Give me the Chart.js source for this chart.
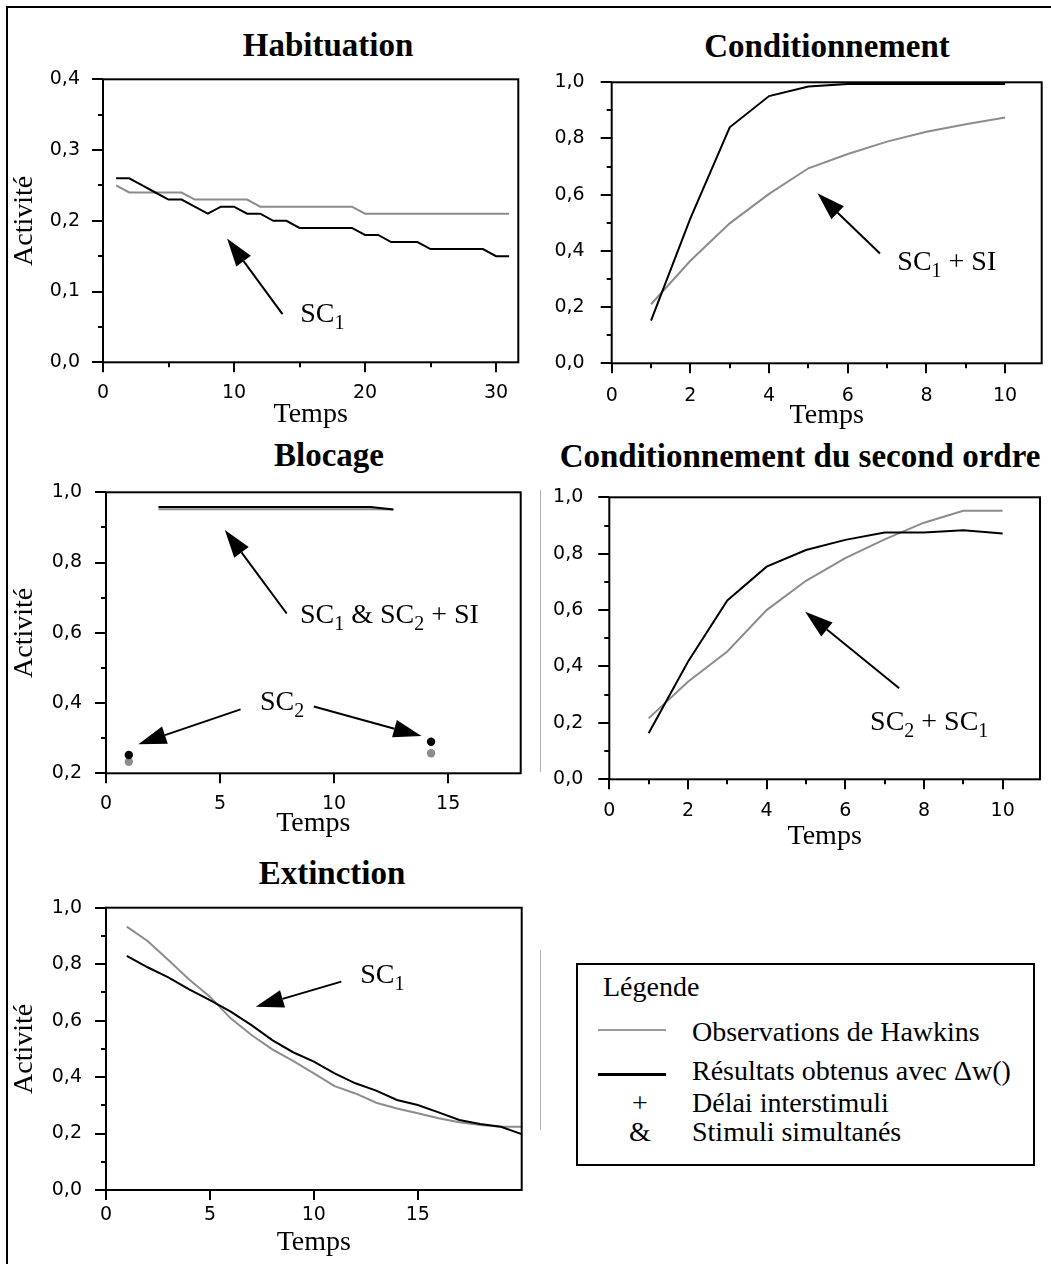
<!DOCTYPE html>
<html>
<head>
<meta charset="utf-8">
<script src="https://cdn.jsdelivr.net/npm/chart.js@4.4.0/dist/chart.umd.min.js"></script>
<style>
body { margin: 0; background: #fff; }
#page { position: relative; width: 1051px; height: 1264px; overflow: hidden; font-family: 'Liberation Serif', 'Times New Roman', serif; color: #000; }
#page canvas { position: absolute; }
.cadre { position: absolute; left: 6px; top: 6px; width: 1200px; height: 1400px; border-top: 2px solid #000; border-left: 2px solid #000; }
.titre { position: absolute; font-weight: bold; font-size: 33px; line-height: 33px; white-space: nowrap; transform: translateX(-50%); }
.leg { position: absolute; font-size: 28px; line-height: 28px; white-space: nowrap; }
.sym { transform: translateX(-50%); }
.trait { position: absolute; }
#boite { position: absolute; left: 576px; top: 963px; width: 459px; height: 203px; box-sizing: border-box; border: 2px solid #000; }
.filet { position: absolute; width: 1px; background: #b0b0b0; }
</style>
</head>
<body>
<div id="page">
  <div class="cadre"></div>
  <div class="filet" style="left:540px; top:490px; height:282px;"></div>
  <div class="filet" style="left:540px; top:950px; height:180px;"></div>

  <div class="titre" style="left:328px; top:29px;">Habituation</div>
  <div class="titre" style="left:827px; top:30px;">Conditionnement</div>
  <div class="titre" style="left:329px; top:439px;">Blocage</div>
  <div class="titre" style="left:800px; top:440px;">Conditionnement du second ordre</div>
  <div class="titre" style="left:332px; top:857px;">Extinction</div>

  <canvas id="hab"></canvas>
  <canvas id="cond"></canvas>
  <canvas id="bloc"></canvas>
  <canvas id="ordre2"></canvas>
  <canvas id="ext"></canvas>

  <div id="boite"></div>
  <div class="leg" style="left:603px; top:973px;">Légende</div>
  <div class="trait" style="left:598px; top:1029px; width:68px; height:1.5px; background:#999;"></div>
  <div class="leg" style="left:692px; top:1018px;">Observations de Hawkins</div>
  <div class="trait" style="left:598px; top:1073px; width:68px; height:2.5px; background:#000;"></div>
  <div class="leg" style="left:692px; top:1057px;">Résultats obtenus avec Δw()</div>
  <div class="leg sym" style="left:640px; top:1089px;">+</div>
  <div class="leg" style="left:692px; top:1089px;">Délai interstimuli</div>
  <div class="leg sym" style="left:640px; top:1118px;">&amp;</div>
  <div class="leg" style="left:692px; top:1118px;">Stimuli simultanés</div>
</div>

<script>
// Habituation
const habTemps = [1, 2, 3, 4, 5, 6, 7, 8, 9, 10, 11, 12, 13, 14, 15, 16, 17, 18, 19, 20, 21, 22, 23, 24, 25, 26, 27, 28, 29, 30, 31];
const habHawkins = [0.25, 0.24, 0.24, 0.24, 0.24, 0.24, 0.23, 0.23, 0.23, 0.23, 0.23, 0.22, 0.22, 0.22, 0.22, 0.22,
  0.22, 0.22, 0.22, 0.21, 0.21, 0.21, 0.21, 0.21, 0.21, 0.21, 0.21, 0.21, 0.21, 0.21, 0.21];
const habDeltaW = [0.26, 0.26, 0.25, 0.24, 0.23, 0.23, 0.22, 0.21, 0.22, 0.22, 0.21, 0.21, 0.20, 0.20, 0.19, 0.19,
  0.19, 0.19, 0.19, 0.18, 0.18, 0.17, 0.17, 0.17, 0.16, 0.16, 0.16, 0.16, 0.16, 0.15, 0.15];
const habTicksX = [0, 5, 10, 15, 20, 25, 30];
const habLabelsX = [0, 10, 20, 30];
const habTicksY = [0, 0.05, 0.1, 0.15, 0.2, 0.25, 0.3, 0.35, 0.4];
const habLabelsY = [0, 0.1, 0.2, 0.3, 0.4];

// Conditionnement
const condTemps = [1, 2, 3, 4, 5, 6, 7, 8, 9, 10];
const condHawkins = [0.21, 0.365, 0.498, 0.603, 0.694, 0.745, 0.789, 0.824, 0.851, 0.875];
const condDeltaW = [0.152, 0.516, 0.84, 0.951, 0.985, 0.994, 0.994, 0.994, 0.994, 0.994];

// Blocage
const blocLigneTemps = [2.3, 11.6, 12.6];
const blocLigneHawkins = [0.952, 0.952, 0.951];
const blocLigneDeltaW = [0.958, 0.958, 0.951];
const blocSC2Temps = [1, 14.25];
const blocSC2Hawkins = [0.233, 0.257];
const blocSC2DeltaW = [0.252, 0.29];
const blocTicksX = [0, 5, 10, 15];
const blocLabelsX = [0, 5, 10, 15];
const blocTicksY = [0.2, 0.3, 0.4, 0.5, 0.6, 0.7, 0.8, 0.9, 1.0];
const blocLabelsY = [0.2, 0.4, 0.6, 0.8, 1.0];

// Conditionnement du second ordre
const ordre2Temps = [1, 2, 3, 4, 5, 6, 7, 8, 9, 10];
const ordre2Hawkins = [0.216, 0.346, 0.453, 0.6, 0.704, 0.784, 0.851, 0.91, 0.952, 0.952];
const ordre2DeltaW = [0.163, 0.417, 0.634, 0.754, 0.813, 0.849, 0.875, 0.875, 0.883, 0.872];

// Extinction
const extTemps = [1, 2, 3, 4, 5, 6, 7, 8, 9, 10, 11, 12, 13, 14, 15, 16, 17, 18, 19, 20];
const extHawkins = [0.933, 0.882, 0.815, 0.746, 0.685, 0.608, 0.549, 0.498, 0.457, 0.413,
  0.368, 0.342, 0.309, 0.289, 0.272, 0.254, 0.240, 0.230, 0.224, 0.224];
const extDeltaW = [0.829, 0.789, 0.753, 0.711, 0.673, 0.632, 0.584, 0.531, 0.488, 0.455,
  0.413, 0.378, 0.352, 0.319, 0.301, 0.275, 0.248, 0.234, 0.224, 0.198];
const extTicksX = [0, 5, 10, 15];
const extLabelsX = [0, 5, 10, 15];

// axes communs aux panneaux 0..10 et 0..1
const dixTicksX = [0, 1, 2, 3, 4, 5, 6, 7, 8, 9, 10];
const dixLabelsX = [0, 2, 4, 6, 8, 10];
const unTicksY = [0, 0.1, 0.2, 0.3, 0.4, 0.5, 0.6, 0.7, 0.8, 0.9, 1.0];
const unLabelsY = [0, 0.2, 0.4, 0.6, 0.8, 1.0];

const NOIR = '#000';
const GRIS = '#8c8c8c';

const points = (xs, ys) => xs.map((x, i) => ({ x: x, y: ys[i] }));
const dans = (liste, v) => liste.some(w => Math.abs(w - v) < 1e-9);

function courbe(xs, ys, couleur) {
  return { data: points(xs, ys), showLine: true, borderColor: couleur, borderWidth: 2,
    pointRadius: 0, tension: 0 };
}
function nuage(xs, ys, couleur) {
  return { data: points(xs, ys), showLine: false, backgroundColor: couleur, borderWidth: 0,
    pointRadius: 4.2 };
}

// cadre du graphe + graduations (longues sous les valeurs, courtes entre)
function cadrePlugin(labelsX, labelsY) {
  return {
    id: 'cadre',
    afterDraw(chart) {
      const { ctx, chartArea: a, scales } = chart;
      ctx.save();
      ctx.strokeStyle = NOIR;
      ctx.lineWidth = 2;
      ctx.beginPath();
      scales.x.ticks.forEach(t => {
        const px = Math.round(scales.x.getPixelForValue(t.value));
        ctx.moveTo(px, a.bottom);
        ctx.lineTo(px, a.bottom + (dans(labelsX, t.value) ? 10 : 5));
      });
      scales.y.ticks.forEach(t => {
        const py = Math.round(scales.y.getPixelForValue(t.value));
        ctx.moveTo(a.left, py);
        ctx.lineTo(a.left - (dans(labelsY, t.value) ? 11 : 5), py);
      });
      ctx.stroke();
      ctx.strokeRect(a.left, a.top, a.right - a.left, a.bottom - a.top);
      ctx.restore();
    }
  };
}

function fleche(ctx, x1, y1, x2, y2) {
  const ang = Math.atan2(y2 - y1, x2 - x1);
  const L = 28, W = 9;
  const bx = x2 - L * Math.cos(ang), by = y2 - L * Math.sin(ang);
  ctx.beginPath();
  ctx.moveTo(x1, y1);
  ctx.lineTo(bx, by);
  ctx.stroke();
  ctx.beginPath();
  ctx.moveTo(x2, y2);
  ctx.lineTo(bx + W * Math.sin(ang), by - W * Math.cos(ang));
  ctx.lineTo(bx - W * Math.sin(ang), by + W * Math.cos(ang));
  ctx.closePath();
  ctx.fill();
}

// flèches et étiquettes SC, placées en coordonnées de données
function notesPlugin(fleches, textes) {
  return {
    id: 'notes',
    afterDatasetsDraw(chart) {
      const { ctx, scales: { x, y } } = chart;
      ctx.save();
      ctx.strokeStyle = NOIR;
      ctx.fillStyle = NOIR;
      ctx.lineWidth = 2;
      fleches.forEach(f => fleche(ctx, x.getPixelForValue(f[0]), y.getPixelForValue(f[1]),
        x.getPixelForValue(f[2]), y.getPixelForValue(f[3])));
      ctx.textBaseline = 'alphabetic';
      textes.forEach(t => {
        let px = x.getPixelForValue(t.x);
        const py = y.getPixelForValue(t.y);
        t.morceaux.forEach(m => {
          const indice = m[1] === 1;
          ctx.font = (indice ? 20 : 28) + 'px "Liberation Serif"';
          ctx.fillText(m[0], px, py + (indice ? 7 : 0));
          px += ctx.measureText(m[0]).width;
        });
      });
      ctx.restore();
    }
  };
}

const police = { family: 'DejaVu Sans', size: 19 };
const policeTitre = { family: 'Liberation Serif', size: 28 };

// la marge haute du canvas doit dépasser la demi-hauteur des étiquettes + padding
function panneau(id, boite, zone, p) {
  const canvas = document.getElementById(id);
  canvas.width = boite.w;
  canvas.height = boite.h;
  canvas.style.left = boite.left + 'px';
  canvas.style.top = boite.top + 'px';
  const largeurY = zone.l - boite.left;
  const hauteurX = boite.top + boite.h - zone.b;
  return new Chart(canvas, {
    type: 'scatter',
    data: { datasets: p.datasets },
    options: {
      responsive: false,
      animation: false,
      layout: { padding: { left: 0, bottom: 0, top: zone.t - boite.top, right: boite.left + boite.w - zone.r } },
      plugins: { legend: { display: false }, tooltip: { enabled: false } },
      scales: {
        x: {
          type: 'linear', min: p.xMin, max: p.xMax,
          afterBuildTicks: s => { s.ticks = p.ticksX.map(v => ({ value: v })); },
          afterFit: s => { s.height = hauteurX; },
          grid: { display: false, drawTicks: false },
          border: { display: false },
          ticks: { padding: p.padX, font: police, color: NOIR, autoSkip: false, maxRotation: 0,
            callback: v => dans(p.labelsX, v) ? String(v) : '' },
          title: { display: true, text: 'Temps', font: policeTitre, color: NOIR, padding: 0 }
        },
        y: {
          type: 'linear', min: p.yMin, max: p.yMax,
          afterBuildTicks: s => { s.ticks = p.ticksY.map(v => ({ value: v })); },
          afterFit: s => { s.width = largeurY; },
          grid: { display: false, drawTicks: false },
          border: { display: false },
          ticks: { padding: p.padY, font: police, color: NOIR, autoSkip: false,
            callback: v => dans(p.labelsY, v) ? v.toFixed(1).replace('.', ',') : '' },
          title: { display: p.activite, text: 'Activité', font: policeTitre, color: NOIR, padding: { top: 8 } }
        }
      }
    },
    plugins: [cadrePlugin(p.labelsX, p.labelsY), notesPlugin(p.fleches, p.textes)]
  });
}

panneau('hab', { left: 0, top: 30, w: 540, h: 401 }, { l: 103, t: 79.3, r: 518.3, b: 362.3 }, {
  datasets: [courbe(habTemps, habDeltaW, NOIR), courbe(habTemps, habHawkins, GRIS)],
  xMin: 0, xMax: 31.7, yMin: 0, yMax: 0.4,
  ticksX: habTicksX, labelsX: habLabelsX, ticksY: habTicksY, labelsY: habLabelsY,
  padX: 19, padY: 23, activite: true,
  fleches: [[13.7, 0.068, 9.47, 0.175]],
  textes: [{ x: 15.05, y: 0.057, morceaux: [['SC', 0], ['1', 1]] }]
});

panneau('cond', { left: 540, top: 30, w: 511, h: 402 }, { l: 611.7, t: 82.3, r: 1041.7, b: 363.3 }, {
  datasets: [courbe(condTemps, condDeltaW, NOIR), courbe(condTemps, condHawkins, GRIS)],
  xMin: 0, xMax: 10.93, yMin: 0, yMax: 1,
  ticksX: dixTicksX, labelsX: dixLabelsX, ticksY: unTicksY, labelsY: unLabelsY,
  padX: 21, padY: 27, activite: false,
  fleches: [[6.82, 0.391, 5.23, 0.605]],
  textes: [{ x: 7.26, y: 0.332, morceaux: [['SC', 0], ['1', 1], [' + SI', 0]] }]
});

panneau('bloc', { left: 0, top: 445, w: 540, h: 395 }, { l: 106, t: 492.3, r: 520.7, b: 773.3 }, {
  datasets: [
    courbe(blocLigneTemps, blocLigneDeltaW, NOIR), courbe(blocLigneTemps, blocLigneHawkins, GRIS),
    nuage(blocSC2Temps, blocSC2DeltaW, NOIR), nuage(blocSC2Temps, blocSC2Hawkins, GRIS)
  ],
  xMin: 0, xMax: 18.18, yMin: 0.2, yMax: 1,
  ticksX: blocTicksX, labelsX: blocLabelsX, ticksY: blocTicksY, labelsY: blocLabelsY,
  padX: 19, padY: 24, activite: true,
  fleches: [[7.92, 0.655, 5.21, 0.893], [5.9, 0.382, 1.42, 0.283], [9.11, 0.39, 13.83, 0.306]],
  textes: [
    { x: 8.5, y: 0.627, morceaux: [['SC', 0], ['1', 1], [' & SC', 0], ['2', 1], [' + SI', 0]] },
    { x: 6.75, y: 0.38, morceaux: [['SC', 0], ['2', 1]] }
  ]
});

panneau('ordre2', { left: 540, top: 450, w: 511, h: 403 }, { l: 609.3, t: 497.3, r: 1040, b: 779.3 }, {
  datasets: [courbe(ordre2Temps, ordre2DeltaW, NOIR), courbe(ordre2Temps, ordre2Hawkins, GRIS)],
  xMin: 0, xMax: 10.95, yMin: 0, yMax: 1,
  ticksX: dixTicksX, labelsX: dixLabelsX, ticksY: unTicksY, labelsY: unLabelsY,
  padX: 20, padY: 26, activite: false,
  fleches: [[7.37, 0.323, 4.98, 0.594]],
  textes: [{ x: 6.63, y: 0.175, morceaux: [['SC', 0], ['2', 1], [' + SC', 0], ['1', 1]] }]
});

panneau('ext', { left: 0, top: 860, w: 540, h: 399 }, { l: 106, t: 907.7, r: 521.7, b: 1190 }, {
  datasets: [courbe(extTemps, extDeltaW, NOIR), courbe(extTemps, extHawkins, GRIS)],
  xMin: 0, xMax: 20, yMin: 0, yMax: 1,
  ticksX: extTicksX, labelsX: extLabelsX, ticksY: unTicksY, labelsY: unLabelsY,
  padX: 14, padY: 24, activite: true,
  fleches: [[11.32, 0.738, 7.2, 0.649]],
  textes: [{ x: 12.23, y: 0.732, morceaux: [['SC', 0], ['1', 1]] }]
});
</script>
</body>
</html>
